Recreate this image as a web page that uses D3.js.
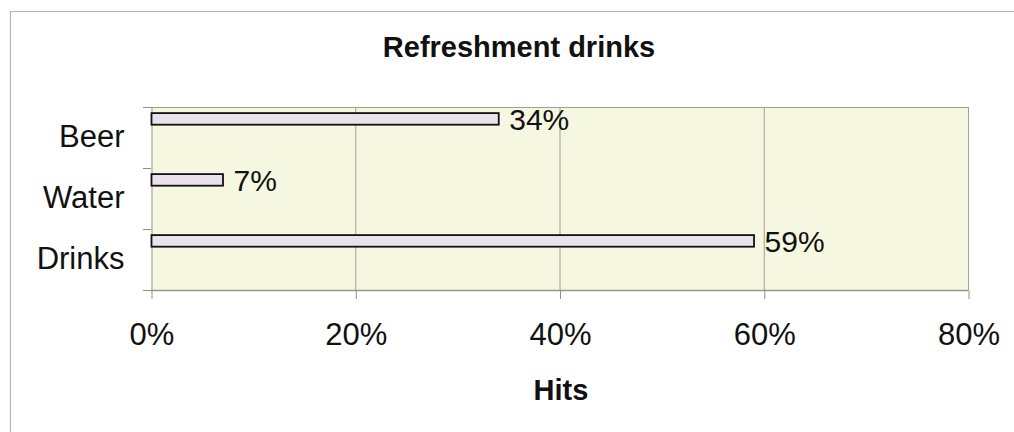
<!DOCTYPE html>
<html>
<head>
<meta charset="utf-8">
<script src="https://cdn.jsdelivr.net/npm/d3@7"></script>
<style>
  html, body { margin: 0; padding: 0; background: #ffffff; }
  svg { display: block; }
  text { font-family: "Liberation Sans", Arial, sans-serif; fill: #111; }
</style>
</head>
<body>
<svg id="chart" width="1014" height="432"></svg>
<script>
// Share of hits per drink category
const categories = ["Beer", "Water", "Drinks"];
const hits = [0.34, 0.07, 0.59];
const xTicks = [0, 0.2, 0.4, 0.6, 0.8];
const chartTitle = "Refreshment drinks";
const xTitle = "Hits";

const svg = d3.select("#chart");
const W = 1014, H = 432;
const plot = { left: 151, right: 968, top: 107, bottom: 290 };

// outer chart frame
svg.append("path")
  .attr("d", `M10.5,${H} L10.5,11.5 L${W},11.5`)
  .attr("fill", "none")
  .attr("stroke", "#b4b4b4")
  .attr("stroke-width", 1.2);

const x = d3.scaleLinear().domain([0, 0.8]).range([plot.left, plot.right]);
const y = d3.scaleBand().domain(categories).range([plot.top, plot.bottom]).padding(0);

// plot background
svg.append("rect")
  .attr("x", plot.left).attr("y", plot.top)
  .attr("width", plot.right - plot.left).attr("height", plot.bottom - plot.top)
  .attr("fill", "#f5f7e1");

// vertical gridlines
svg.append("g")
  .selectAll("line")
  .data(xTicks.slice(1))
  .join("line")
  .attr("x1", d => x(d) + 0.5).attr("x2", d => x(d) + 0.5)
  .attr("y1", plot.top).attr("y2", plot.bottom)
  .attr("stroke", "#8a8a80").attr("stroke-width", 0.8);

// plot border top / bottom
svg.append("line")
  .attr("x1", plot.left).attr("x2", plot.right)
  .attr("y1", plot.top + 0.5).attr("y2", plot.top + 0.5)
  .attr("stroke", "#a89c8c").attr("stroke-width", 1.2);
svg.append("line")
  .attr("x1", plot.left).attr("x2", plot.right)
  .attr("y1", plot.bottom + 0.5).attr("y2", plot.bottom + 0.5)
  .attr("stroke", "#9a948a").attr("stroke-width", 1.5);

// x axis (ticks below plot, labels)
const xAxis = d3.axisBottom(x)
  .tickValues(xTicks)
  .tickFormat(d3.format(".0%"))
  .tickSize(9)
  .tickPadding(24);
const gx = svg.append("g")
  .attr("transform", `translate(0.5,${plot.bottom})`)
  .call(xAxis);
gx.select(".domain").remove();
gx.selectAll(".tick line").attr("stroke", "#8f8f86");
gx.selectAll(".tick text")
  .attr("font-size", 31)
  .attr("font-family", "Liberation Sans, Arial, sans-serif")
  .attr("fill", "#111");

// y axis
const yAxis = d3.axisLeft(y).tickSize(0).tickPadding(27);
const gy = svg.append("g")
  .attr("transform", `translate(${plot.left + 0.5},0)`)
  .call(yAxis);
gy.select(".domain").attr("stroke", "#9a9a92").attr("stroke-width", 1);
gy.selectAll(".tick text")
  .attr("font-size", 31)
  .attr("font-family", "Liberation Sans, Arial, sans-serif")
  .attr("fill", "#111");

// y tick marks at band boundaries
const bounds = categories.map(c => y(c)).concat([plot.bottom]);
svg.append("g")
  .selectAll("line")
  .data(bounds)
  .join("line")
  .attr("x1", plot.left - 8).attr("x2", plot.left)
  .attr("y1", d => d + 0.5).attr("y2", d => d + 0.5)
  .attr("stroke", "#8f8f86").attr("stroke-width", 1);

// bars
const bw = y.bandwidth();
svg.append("g")
  .selectAll("rect")
  .data(categories)
  .join("rect")
  .attr("x", x(0) + 0.5)
  .attr("y", d => y(d) + bw * 0.1)
  .attr("width", (d, i) => x(hits[i]) - x(0))
  .attr("height", bw * 0.19)
  .attr("fill", "#e9e2ec")
  .attr("stroke", "#111")
  .attr("stroke-width", 1.8);

// value labels
svg.append("g")
  .selectAll("text")
  .data(categories)
  .join("text")
  .attr("x", (d, i) => x(hits[i]) + 11)
  .attr("y", d => y(d) + bw * 0.195)
  .attr("dy", "0.36em")
  .attr("font-size", 30)
  .text((d, i) => d3.format(".0%")(hits[i]));

// titles
svg.append("text")
  .attr("x", 519).attr("y", 57)
  .attr("text-anchor", "middle")
  .attr("font-size", 29)
  .attr("font-weight", "bold")
  .text(chartTitle);

svg.append("text")
  .attr("x", 561).attr("y", 400)
  .attr("text-anchor", "middle")
  .attr("font-size", 29)
  .attr("font-weight", "bold")
  .text(xTitle);
</script>
</body>
</html>
